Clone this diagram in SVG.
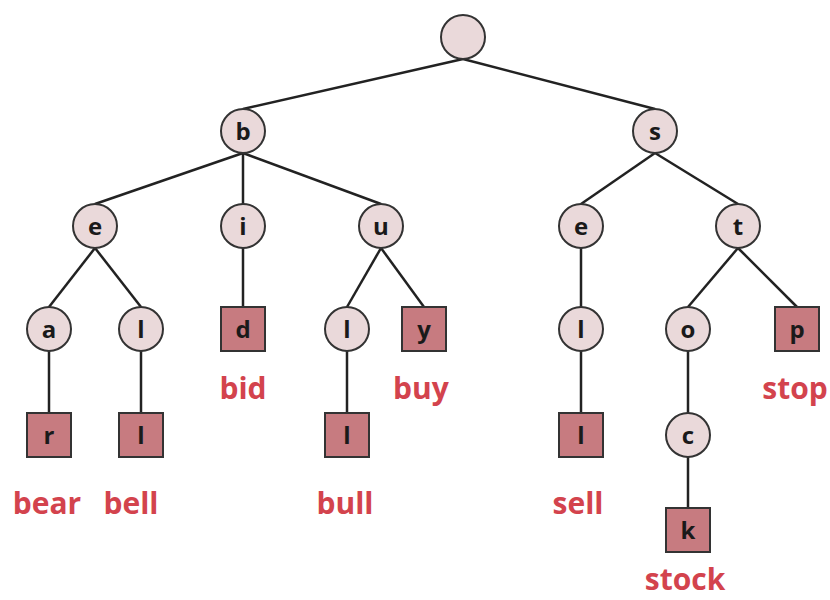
<svg xmlns="http://www.w3.org/2000/svg" width="830" height="600" viewBox="0 0 830 600">
<style>
.c{fill:#ead9da;stroke:#333;stroke-width:2}
.s{fill:#c77b80;stroke:#333;stroke-width:2}
.t{font-family:"Open Sans","DejaVu Sans",sans-serif;font-weight:bold;font-size:24px;fill:#1a1a1a;text-anchor:middle}
.w{font-family:"Open Sans","DejaVu Sans",sans-serif;font-weight:bold;font-size:30px;fill:#d3434d;text-anchor:middle}
#edges line{stroke:#222;stroke-width:2.5}
</style>
<rect width="830" height="600" fill="#fff"/>
<g id="edges">
<line x1="463" y1="59" x2="243" y2="109"/>
<line x1="463" y1="59" x2="655" y2="109"/>
<line x1="243" y1="153" x2="95" y2="204"/>
<line x1="243" y1="153" x2="243" y2="204"/>
<line x1="243" y1="153" x2="381" y2="204"/>
<line x1="655" y1="153" x2="581" y2="204"/>
<line x1="655" y1="153" x2="738" y2="204"/>
<line x1="95" y1="248" x2="49" y2="307"/>
<line x1="95" y1="248" x2="141" y2="307"/>
<line x1="243" y1="248" x2="243" y2="307"/>
<line x1="381" y1="248" x2="347" y2="307"/>
<line x1="381" y1="248" x2="424" y2="307"/>
<line x1="581" y1="248" x2="581" y2="307"/>
<line x1="738" y1="248" x2="688" y2="307"/>
<line x1="738" y1="248" x2="797" y2="307"/>
<line x1="49" y1="351" x2="49" y2="413"/>
<line x1="141" y1="351" x2="141" y2="413"/>
<line x1="347" y1="351" x2="347" y2="413"/>
<line x1="581" y1="351" x2="581" y2="413"/>
<line x1="688" y1="351" x2="688" y2="413"/>
<line x1="688" y1="457" x2="688" y2="508"/>
</g>
<g id="root"><circle class="c" cx="463" cy="37" r="22"/></g>
<g id="n-b"><circle class="c" cx="243" cy="131" r="22"/><text class="t" x="243" y="140">b</text></g>
<g id="n-s"><circle class="c" cx="655" cy="131" r="22"/><text class="t" x="655" y="140">s</text></g>
<g id="n-be"><circle class="c" cx="95" cy="226" r="22"/><text class="t" x="95" y="235">e</text></g>
<g id="n-bi"><circle class="c" cx="243" cy="226" r="22"/><text class="t" x="243" y="235">i</text></g>
<g id="n-bu"><circle class="c" cx="381" cy="226" r="22"/><text class="t" x="381" y="235">u</text></g>
<g id="n-se"><circle class="c" cx="581" cy="226" r="22"/><text class="t" x="581" y="235">e</text></g>
<g id="n-st"><circle class="c" cx="738" cy="226" r="22"/><text class="t" x="738" y="235">t</text></g>
<g id="n-bea"><circle class="c" cx="49" cy="329" r="22"/><text class="t" x="49" y="338">a</text></g>
<g id="n-bel"><circle class="c" cx="141" cy="329" r="22"/><text class="t" x="141" y="338">l</text></g>
<g id="n-bid"><rect class="s" x="221" y="307" width="44" height="44"/><text class="t" x="243" y="338">d</text></g>
<g id="n-bul"><circle class="c" cx="347" cy="329" r="22"/><text class="t" x="347" y="338">l</text></g>
<g id="n-buy"><rect class="s" x="402" y="307" width="44" height="44"/><text class="t" x="424" y="338">y</text></g>
<g id="n-sel"><circle class="c" cx="581" cy="329" r="22"/><text class="t" x="581" y="338">l</text></g>
<g id="n-sto"><circle class="c" cx="688" cy="329" r="22"/><text class="t" x="688" y="338">o</text></g>
<g id="n-stop"><rect class="s" x="775" y="307" width="44" height="44"/><text class="t" x="797" y="338">p</text></g>
<g id="n-bear"><rect class="s" x="27" y="413" width="44" height="44"/><text class="t" x="49" y="444">r</text></g>
<g id="n-bell"><rect class="s" x="119" y="413" width="44" height="44"/><text class="t" x="141" y="444">l</text></g>
<g id="n-bull"><rect class="s" x="325" y="413" width="44" height="44"/><text class="t" x="347" y="444">l</text></g>
<g id="n-sell"><rect class="s" x="559" y="413" width="44" height="44"/><text class="t" x="581" y="444">l</text></g>
<g id="n-stoc"><circle class="c" cx="688" cy="435" r="22"/><text class="t" x="688" y="444">c</text></g>
<g id="n-stock"><rect class="s" x="666" y="508" width="44" height="44"/><text class="t" x="688" y="539">k</text></g>
<g id="labels">
<text class="w" x="243" y="399">bid</text>
<text class="w" x="421" y="399">buy</text>
<text class="w" x="795" y="399">stop</text>
<text class="w" x="47" y="514">bear</text>
<text class="w" x="131" y="514">bell</text>
<text class="w" x="345" y="514">bull</text>
<text class="w" x="578" y="514">sell</text>
<text class="w" x="685" y="590">stock</text>
</g>
</svg>
